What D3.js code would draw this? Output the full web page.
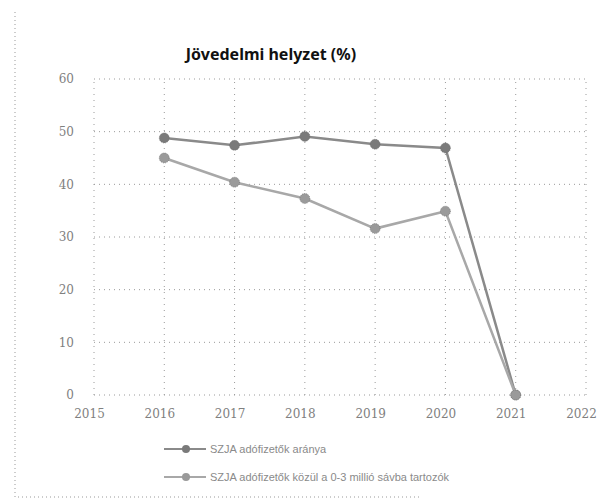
<!DOCTYPE html>
<html>
<head>
<meta charset="utf-8">
<script src="https://cdn.jsdelivr.net/npm/d3@7"></script>
<style>
  body { margin: 0; background: #fff; }
  text { font-family: "Liberation Sans", sans-serif; }
</style>
</head>
<body>
<div id="chart"></div>
<script>
// data
var years = [2016, 2017, 2018, 2019, 2020, 2021];
var aranya = [48.8, 47.4, 49.1, 47.6, 46.9, 0];        // SZJA adófizetők aránya
var savba = [45.0, 40.4, 37.3, 31.6, 34.9, 0];         // 0-3 millió sávba tartozók
var xTicks = [2015, 2016, 2017, 2018, 2019, 2020, 2021, 2022];
var yTicks = [0, 10, 20, 30, 40, 50, 60];
var seriesNames = ["SZJA adófizetők aránya", "SZJA adófizetők közül a 0-3 millió sávba tartozók"];

var W = 615, H = 502;
var svg = d3.select("#chart").append("svg").attr("width", W).attr("height", H);

var x = d3.scaleLinear().domain([2015, 2022]).range([94, 586]);
var y = d3.scaleLinear().domain([0, 60]).range([395, 79]);

// outer chart border (only left and bottom survive on the scan)
svg.append("path")
    .attr("d", "M15,12 L15,497 L420,497")
    .attr("fill", "none")
    .attr("stroke", "#999")
    .attr("stroke-dasharray", "1,3");

// title
svg.append("text")
    .attr("x", 271).attr("y", 60)
    .attr("text-anchor", "middle")
    .style("font-family", "'Noto Sans', sans-serif")
    .style("font-weight", "bold")
    .style("font-size", "16px")
    .attr("fill", "#111")
    .text("Jövedelmi helyzet (%)");

// grid
var g = svg.append("g");
g.selectAll(".hgrid").data(yTicks).enter().append("line")
    .attr("x1", x(2015)).attr("x2", x(2022))
    .attr("y1", function(d) { return y(d); })
    .attr("y2", function(d) { return y(d); })
    .attr("stroke", "#9a9a9a")
    .attr("stroke-dasharray", "1,4");
g.selectAll(".vgrid").data(xTicks).enter().append("line")
    .attr("x1", function(d) { return x(d); })
    .attr("x2", function(d) { return x(d); })
    .attr("y1", y(0)).attr("y2", y(60))
    .attr("stroke", "#9a9a9a")
    .attr("stroke-dasharray", "1,5");

// axes (text only, lines are the dotted grid)
var yAxis = svg.append("g")
    .attr("transform", "translate(" + (x(2015) - 20) + ",0)")
    .call(d3.axisLeft(y).tickValues(yTicks).tickSize(0).tickPadding(0));
var xAxis = svg.append("g")
    .attr("transform", "translate(-5," + (y(0) + 8) + ")")
    .call(d3.axisBottom(x).tickValues(xTicks).tickFormat(d3.format("d")).tickSize(0).tickPadding(6));
[yAxis, xAxis].forEach(function(a) {
    a.select(".domain").remove();
    a.selectAll("text")
        .attr("fill", "#808080")
        .style("font-family", "'DejaVu Serif', serif")
        .style("font-size", "12px");
});

// series
var colors = ["#8a8a8a", "#a8a8a8"];
var markerColors = ["#7a7a7a", "#9a9a9a"];
var allSeries = [aranya, savba];
var line = d3.line()
    .x(function(d, i) { return x(years[i]); })
    .y(function(d) { return y(d); });

allSeries.forEach(function(s, k) {
    svg.append("path")
        .datum(s)
        .attr("d", line)
        .attr("fill", "none")
        .attr("stroke", colors[k])
        .attr("stroke-width", 2.5);
    svg.selectAll(".m" + k).data(s).enter().append("circle")
        .attr("cx", function(d, i) { return x(years[i]); })
        .attr("cy", function(d) { return y(d); })
        .attr("r", 5)
        .attr("fill", markerColors[k])
        .attr("stroke", "#666")
        .attr("stroke-width", 0.6)
        .attr("stroke-dasharray", "1,1");
});

// legend
var legY = [449, 477];
seriesNames.forEach(function(name, k) {
    var lg = svg.append("g").attr("transform", "translate(0," + legY[k] + ")");
    lg.append("line")
        .attr("x1", 164).attr("x2", 206)
        .attr("stroke", colors[k]).attr("stroke-width", 2);
    lg.append("circle")
        .attr("cx", 186).attr("cy", 0).attr("r", 4)
        .attr("fill", markerColors[k]);
    lg.append("text")
        .attr("x", 210).attr("y", 4)
        .attr("fill", "#8a8a8a")
        .style("font-size", "11px")
        .text(name);
});
</script>
</body>
</html>
